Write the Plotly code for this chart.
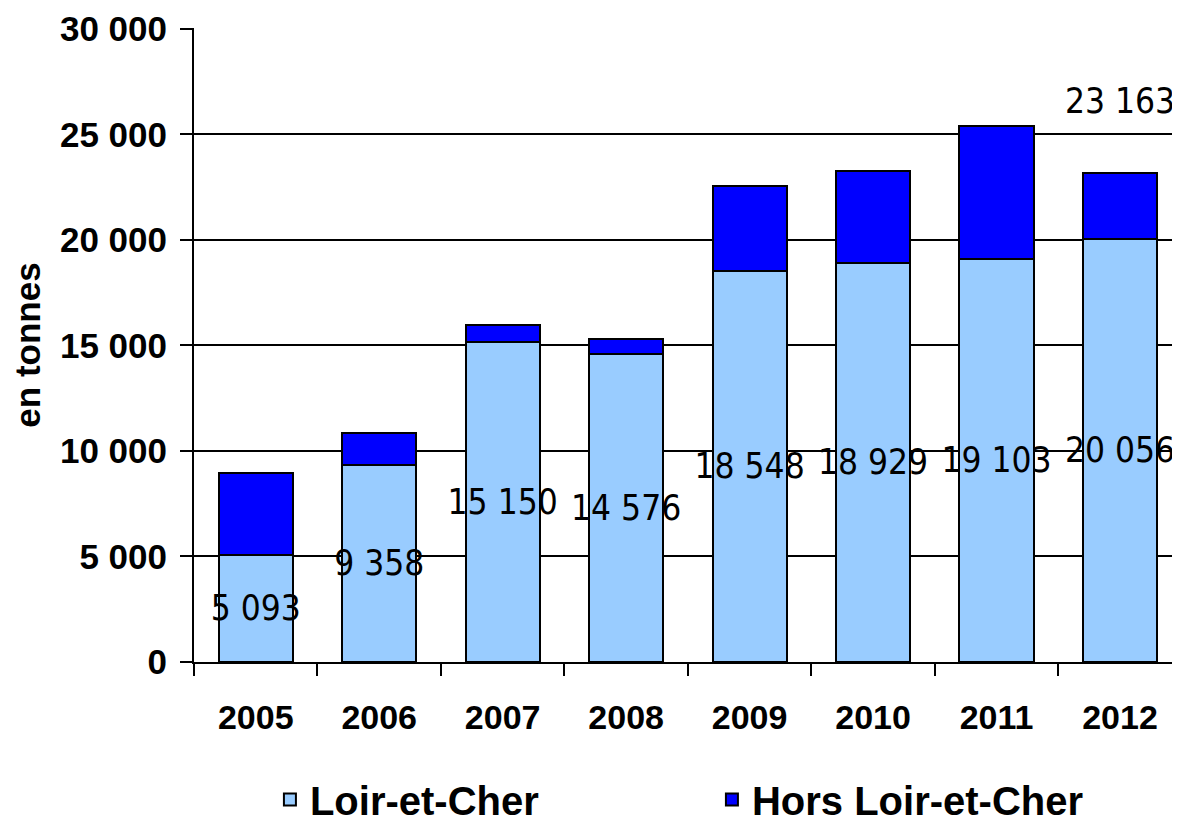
import plotly.graph_objects as go

years = ["2005", "2006", "2007", "2008", "2009", "2010", "2011", "2012"]
loir_et_cher = [5093, 9358, 15150, 14576, 18548, 18929, 19103, 20056]
hors_loir_et_cher = [3868, 1492, 832, 745, 3997, 4324, 6275, 3107]
y_ticks = [0, 5000, 10000, 15000, 20000, 25000, 30000]

LIGHT = "#99CCFF"
DARK = "#0000FF"
LABEL_FONT = "DejaVu Sans Condensed, Liberation Sans Narrow, sans-serif"
BOLD_FONT = "Liberation Sans, Arial, sans-serif"

fig = go.Figure()
fig.add_trace(go.Bar(
    x=years, y=loir_et_cher, name="Loir-et-Cher",
    marker=dict(color=LIGHT, line=dict(color="black", width=2)),
    width=0.6,
    texttemplate="%{y:,d}", textposition="inside", insidetextanchor="middle",
    textangle=0, constraintext="none",
    textfont=dict(family=LABEL_FONT, size=35, color="black"),
    cliponaxis=False,
))
fig.add_trace(go.Bar(
    x=years, y=hors_loir_et_cher, name="Hors Loir-et-Cher",
    marker=dict(color=DARK, line=dict(color="black", width=2)),
    width=0.6,
))

# total label for last year
last_total = loir_et_cher[-1] + hors_loir_et_cher[-1]
fig.add_annotation(
    x=len(years) - 1, y=last_total, yanchor="bottom", yshift=50,
    text=f"{last_total:,}".replace(",", " "), showarrow=False,
    font=dict(family=LABEL_FONT, size=35, color="black"),
)

# page body has an 8px default margin, so the figure is 8px smaller
fig.update_layout(
    width=1172, height=818,
    barmode="stack",
    separators=", ",
    plot_bgcolor="white", paper_bgcolor="white",
    margin=dict(l=186, r=0, t=20, b=163.5, autoexpand=False),
    font=dict(family=BOLD_FONT, color="black"),
    showlegend=True,
    legend=dict(
        orientation="h", x=0.077, xanchor="left", y=-0.217, yanchor="middle",
        font=dict(family=BOLD_FONT, size=40, color="black", weight="bold"),
        entrywidth=397, entrywidthmode="pixels",
        traceorder="normal",
    ),
    xaxis=dict(
        type="category",
        range=[-0.5, 7.486],
        showline=True, linecolor="black", linewidth=2,
        ticks="outside", ticklen=12, tickwidth=2, tickcolor="black",
        tickson="boundaries",
        ticklabelstandoff=24,
        tickfont=dict(family=BOLD_FONT, size=34, color="black", weight="bold"),
        showgrid=False,
        automargin=False,
    ),
    yaxis=dict(
        range=[0, 30040], tickvals=y_ticks, tickformat=",d",
        showline=True, linecolor="black", linewidth=2,
        ticks="outside", ticklen=12, tickwidth=2, tickcolor="black",
        ticklabelstandoff=6,
        showgrid=True, gridcolor="black", gridwidth=2,
        zeroline=False,
        automargin=False,
        tickfont=dict(family=BOLD_FONT, size=35, color="black", weight="bold"),
        title=dict(text="en tonnes", standoff=12,
                   font=dict(family=BOLD_FONT, size=35, color="black", weight="bold")),
    ),
)

fig.write_html("out.html")
